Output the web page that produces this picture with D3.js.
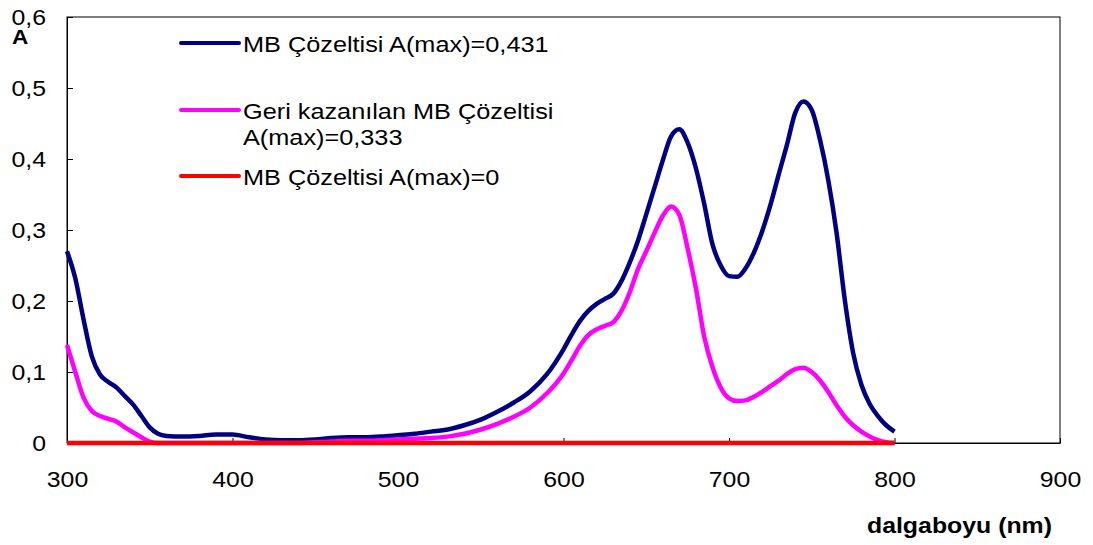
<!DOCTYPE html>
<html>
<head>
<meta charset="utf-8">
<script src="https://cdn.jsdelivr.net/npm/d3@7"></script>
<style>
  body { margin: 0; background: #fff; }
  svg { display: block; font-family: "Liberation Sans", Arial, sans-serif; }
</style>
</head>
<body>
<div id="chart"></div>
<script>
// wavelengths (nm)
var wavelengths = [300,305,310,315,320,325,330,335,340,345,350,355,360,370,380,390,400,410,420,430,440,450,460,470,480,490,500,510,520,530,540,550,560,570,580,590,600,605,610,615,620,625,630,635,640,645,650,655,660,665,670,675,680,685,690,695,700,705,710,715,720,725,730,735,740,745,750,755,760,765,770,775,780,785,790,795,800];

// MB Çözeltisi
var mbSolution = [0.270,0.232,0.174,0.122,0.096,0.086,0.078,0.066,0.054,0.038,0.022,0.013,0.010,0.009,0.010,0.012,0.012,0.008,0.005,0.004,0.004,0.005,0.007,0.008,0.008,0.009,0.011,0.013,0.016,0.019,0.025,0.033,0.044,0.057,0.073,0.097,0.132,0.153,0.172,0.186,0.196,0.203,0.210,0.228,0.254,0.285,0.322,0.360,0.398,0.432,0.442,0.423,0.387,0.337,0.280,0.250,0.235,0.234,0.246,0.268,0.298,0.335,0.378,0.420,0.465,0.481,0.469,0.427,0.370,0.296,0.201,0.127,0.082,0.055,0.038,0.025,0.016];

// Geri kazanılan MB Çözeltisi
var recovered = [0.138,0.100,0.064,0.045,0.038,0.034,0.030,0.022,0.015,0.008,0.002,0.000,0,0,0,0,0,0,0,0,0,0.001,0.002,0.003,0.003,0.004,0.005,0.006,0.007,0.009,0.013,0.019,0.027,0.037,0.050,0.070,0.098,0.117,0.137,0.152,0.160,0.165,0.170,0.186,0.212,0.245,0.270,0.296,0.320,0.333,0.321,0.274,0.218,0.150,0.107,0.078,0.063,0.059,0.060,0.065,0.072,0.080,0.088,0.097,0.104,0.106,0.100,0.088,0.072,0.053,0.037,0.025,0.016,0.009,0.004,0.001,0.000];

// MB Çözeltisi A(max)=0
var blank = wavelengths.map(function(){ return 0; });

var xTicks = [300,400,500,600,700,800,900];
var yTicks = [0,0.1,0.2,0.3,0.4,0.5,0.6];

var legendLabels = [
  ["MB Çözeltisi A(max)=0,431"],
  ["Geri kazanılan MB Çözeltisi", "A(max)=0,333"],
  ["MB Çözeltisi A(max)=0"]
];
var colors = ["#000080", "#ff00ff", "#ff0000"];

var width = 1093, height = 545;
var margin = {top: 17, left: 67, right: 33, bottom: 102};
var sx = 1.13; // horizontal stretch of the text in the original

var svg = d3.select('#chart').append('svg')
  .attr('width', width).attr('height', height);

var xScale = d3.scaleLinear().domain([300, 900]).range([margin.left, width - margin.right]);
var yScale = d3.scaleLinear().domain([0, 0.6]).range([height - margin.bottom, margin.top]);

// frame
svg.append('rect')
  .attr('x', xScale(300)).attr('y', yScale(0.6))
  .attr('width', xScale(900) - xScale(300))
  .attr('height', yScale(0) - yScale(0.6))
  .attr('fill', 'none').attr('stroke', '#000').attr('stroke-width', 1);

var fmt = function(d){ return d === 0 ? "0" : d3.format(".1f")(d).replace(".", ","); };

var yAxis = svg.append('g')
  .attr('transform', 'translate(' + xScale(300) + ',0)')
  .call(d3.axisLeft(yScale).tickValues(yTicks).tickSizeInner(-6).tickSizeOuter(0).tickFormat(fmt));
yAxis.select('.domain').attr('stroke', '#000');
yAxis.selectAll('text')
  .attr('x', 0).attr('dy', '0.36em')
  .attr('transform', 'translate(-21,0) scale(' + sx + ',1)')
  .attr('text-anchor', 'end')
  .style('font-size', '22px').style('font-family', '"Liberation Sans", Arial, sans-serif').attr('fill', '#000');

var xAxis = svg.append('g')
  .attr('transform', 'translate(0,' + yScale(0) + ')')
  .call(d3.axisBottom(xScale).tickValues(xTicks).tickSizeInner(-5).tickSizeOuter(0).tickFormat(d3.format('d')));
xAxis.select('.domain').attr('stroke', '#000');
xAxis.selectAll('text')
  .attr('y', 0).attr('dy', 0)
  .attr('transform', 'translate(0,44) scale(' + sx + ',1)')
  .style('font-size', '22px').style('font-family', '"Liberation Sans", Arial, sans-serif').attr('fill', '#000');

// series
var line = d3.line()
  .x(function(d, i){ return xScale(wavelengths[i]); })
  .y(function(d){ return yScale(d); })
  .curve(d3.curveMonotoneX);

[mbSolution, recovered, blank].forEach(function(s, i){
  svg.append('path')
    .datum(s)
    .attr('d', line)
    .attr('fill', 'none')
    .attr('stroke', colors[i])
    .attr('stroke-width', 4.5)
    .attr('stroke-linejoin', 'round');
});

// axis titles
svg.append('text')
  .attr('transform', 'translate(12,44) scale(' + sx + ',1)')
  .style('font-size', '20px').style('font-weight', 'bold')
  .text('A');

svg.append('text')
  .attr('transform', 'translate(1052,533) scale(' + sx + ',1)')
  .attr('text-anchor', 'end')
  .style('font-size', '22px').style('font-weight', 'bold')
  .text('dalgaboyu (nm)');

// legend
var legendY = [43, 110, 176];
var legend = svg.append('g');
legendLabels.forEach(function(lines, i){
  legend.append('line')
    .attr('x1', 181).attr('x2', 239)
    .attr('y1', legendY[i]).attr('y2', legendY[i])
    .attr('stroke', colors[i]).attr('stroke-width', 4)
    .attr('stroke-linecap', 'round');
  lines.forEach(function(t, j){
    legend.append('text')
      .attr('transform', 'translate(243,' + (legendY[i] + 9 + j * 26) + ') scale(1.15,1)')
      .style('font-size', '22px')
      .text(t);
  });
});
</script>
</body>
</html>
